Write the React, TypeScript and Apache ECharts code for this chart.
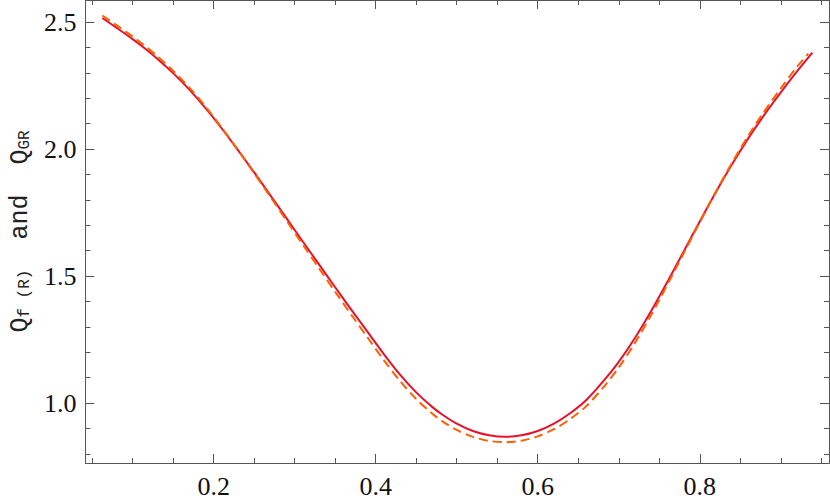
import React, { useEffect, useRef } from "react";
import * as echarts from "echarts";

// Solid red curve: Q_f(R)
const redX = [0.0626, 0.08, 0.1, 0.114, 0.13, 0.15, 0.17, 0.19, 0.21, 0.23, 0.25, 0.27, 0.29, 0.31, 0.33, 0.35, 0.37, 0.39, 0.41, 0.43, 0.45, 0.47, 0.482, 0.5, 0.52, 0.54, 0.56, 0.58, 0.6, 0.62, 0.64, 0.66, 0.682, 0.7, 0.72, 0.74, 0.76, 0.78, 0.8, 0.82, 0.84, 0.86, 0.877, 0.9, 0.92, 0.939];
const redY = [2.516, 2.478, 2.433, 2.399, 2.357, 2.299, 2.234, 2.161, 2.081, 1.996, 1.908, 1.818, 1.727, 1.636, 1.546, 1.456, 1.367, 1.28, 1.193, 1.112, 1.042, 0.984, 0.955, 0.919, 0.89, 0.873, 0.867, 0.873, 0.89, 0.919, 0.96, 1.012, 1.09, 1.162, 1.256, 1.362, 1.477, 1.596, 1.715, 1.831, 1.941, 2.043, 2.123, 2.223, 2.306, 2.38];

// Dashed orange curve: Q_GR
const dashX = [0.0626, 0.08, 0.1, 0.114, 0.13, 0.15, 0.17, 0.19, 0.21, 0.23, 0.25, 0.27, 0.29, 0.31, 0.33, 0.35, 0.37, 0.39, 0.41, 0.43, 0.45, 0.47, 0.482, 0.5, 0.52, 0.54, 0.56, 0.58, 0.6, 0.62, 0.64, 0.66, 0.682, 0.7, 0.72, 0.74, 0.76, 0.78, 0.8, 0.82, 0.84, 0.86, 0.877, 0.9, 0.92, 0.934];
const dashY = [2.526, 2.488, 2.443, 2.409, 2.367, 2.308, 2.242, 2.167, 2.084, 1.996, 1.905, 1.812, 1.718, 1.624, 1.531, 1.438, 1.347, 1.258, 1.169, 1.087, 1.016, 0.958, 0.929, 0.894, 0.867, 0.851, 0.846, 0.852, 0.869, 0.897, 0.937, 0.988, 1.066, 1.14, 1.237, 1.347, 1.466, 1.589, 1.712, 1.833, 1.947, 2.053, 2.136, 2.239, 2.324, 2.376];

const xMajorTicks = [0.2, 0.4, 0.6, 0.8];
const xMinorTicks = [0.05, 0.1, 0.15, 0.25, 0.3, 0.35, 0.45, 0.5, 0.55, 0.65, 0.7, 0.75, 0.85, 0.9, 0.95];
const yMajorTicks = [1.0, 1.5, 2.0, 2.5];
const yMinorTicks = [0.8, 0.9, 1.1, 1.2, 1.3, 1.4, 1.6, 1.7, 1.8, 1.9, 2.1, 2.2, 2.3, 2.4];

const X_MIN = 0.0417;
const X_MAX = 0.9595;
const Y_MIN = 0.764;
const Y_MAX = 2.587;

const AXIS_COLOR = "#555";
const LABEL_FONT = "'Liberation Serif', 'DejaVu Serif', serif";

export default function App() {
  const ref = useRef<HTMLDivElement>(null);
  useEffect(() => {
    if (!ref.current) return;
    const chart = echarts.init(ref.current, null, { renderer: "svg" });

    const mkX = (position: string, ticks: number[], len: number, labels: boolean) => ({
      type: "value",
      position,
      min: X_MIN,
      max: X_MAX,
      axisLine: { show: true, onZero: false, lineStyle: { color: AXIS_COLOR, width: 1 } },
      axisTick: { show: true, inside: true, length: len, customValues: ticks, lineStyle: { color: AXIS_COLOR, width: 1 } },
      axisLabel: labels
        ? { show: true, customValues: xMajorTicks, margin: 10, color: "#111", fontSize: 26, fontFamily: LABEL_FONT, formatter: (v: number) => v.toFixed(1) }
        : { show: false },
      splitLine: { show: false },
    });
    const mkY = (position: string, ticks: number[], len: number, labels: boolean, name?: any) => ({
      type: "value",
      position,
      min: Y_MIN,
      max: Y_MAX,
      axisLine: { show: true, onZero: false, lineStyle: { color: AXIS_COLOR, width: 1 } },
      axisTick: { show: true, inside: true, length: len, customValues: ticks, lineStyle: { color: AXIS_COLOR, width: 1 } },
      axisLabel: labels
        ? { show: true, customValues: yMajorTicks, margin: 9, color: "#111", fontSize: 26, fontFamily: LABEL_FONT, formatter: (v: number) => v.toFixed(1) }
        : { show: false },
      splitLine: { show: false },
      ...(name || {}),
    });

    const mono = "'Liberation Mono', 'DejaVu Sans Mono', monospace";
    const yName = {
      name: "{q|Q}{s|f (R)}{a|  and  }{q|Q}{s|GR}",
      nameLocation: "middle",
      nameRotate: 90,
      nameGap: 52,
      nameTextStyle: {
        rich: {
          q: { fontSize: 25, fontFamily: mono, color: "#222", verticalAlign: "bottom", lineHeight: 28 },
          a: { fontSize: 25, fontFamily: mono, color: "#222", verticalAlign: "bottom", lineHeight: 28 },
          s: { fontSize: 16, fontFamily: mono, color: "#222", verticalAlign: "bottom", lineHeight: 22 },
        },
      },
    };

    chart.setOption({
      animation: false,
      grid: { left: 81, right: 1, top: 0, bottom: 39, containLabel: false },
      xAxis: [
        mkX("bottom", xMajorTicks, 9, true),
        mkX("bottom", xMinorTicks, 5, false),
        mkX("top", xMajorTicks, 9, false),
        mkX("top", xMinorTicks, 5, false),
      ],
      yAxis: [
        mkY("left", yMajorTicks, 9, true, yName),
        mkY("left", yMinorTicks, 5, false),
        mkY("right", yMajorTicks, 9, false),
        mkY("right", yMinorTicks, 5, false),
      ],
      series: [
        {
          type: "line",
          xAxisIndex: 0,
          yAxisIndex: 0,
          data: redX.map((x, i) => [x, redY[i]]),
          showSymbol: false,
          smooth: 0.3,
          lineStyle: { color: "#E8112D", width: 2 },
          z: 2,
        },
        {
          type: "line",
          xAxisIndex: 0,
          yAxisIndex: 0,
          data: dashX.map((x, i) => [x, dashY[i]]),
          showSymbol: false,
          smooth: 0.3,
          lineStyle: { color: "#FF5F00", width: 2, type: [9, 5] },
          z: 3,
        },
      ],
    });
    return () => chart.dispose();
  }, []);
  return (
    <div
      ref={ref}
      style={{ position: "absolute", left: 0, top: 0, width: 830, height: 502, background: "#fff" }}
    />
  );
}
